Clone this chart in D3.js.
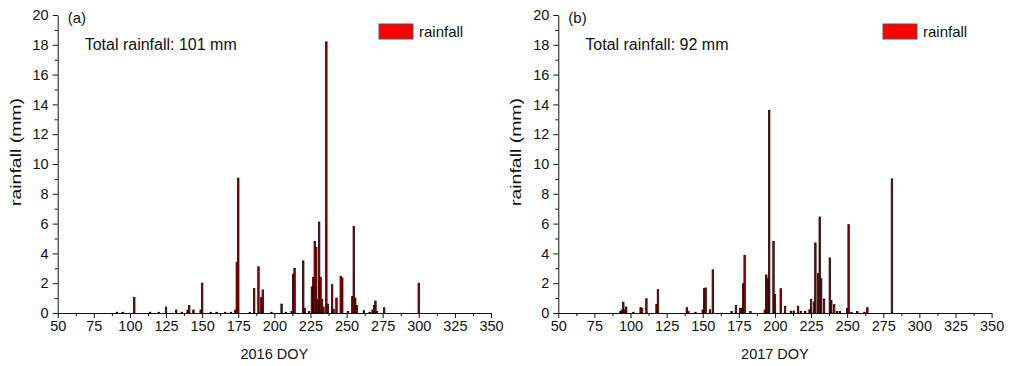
<!DOCTYPE html>
<html><head><meta charset="utf-8">
<script src="https://cdn.jsdelivr.net/npm/d3@7"></script>
<style>
html,body{margin:0;padding:0;background:#fff;}
svg text{font-family:"Liberation Sans",Arial,sans-serif;fill:#111;}
</style></head>
<body><svg id="c" width="1013" height="366"></svg>
<script>
// ---- data ----
const doy2016 = [91,95,103,114,120,125,132,136,140,141,144,149,150,156,160,166,170,173,174,175,
  183,186,189,191,192,198,205,208,212,213,214,220,221,224,226,227,228,229,230,231,232,233,234,236,237,
  240,241,243,246,247,251,254,255,256,257,262,266,268,269,270,271,276,300];
const rain2016 = [0.05,0.05,1.05,0.05,0.05,0.4,0.2,0.05,0.2,0.5,0.2,0.2,2.0,0.05,0.05,0.05,0.05,0.2,3.4,9.05,
  0.05,1.65,3.1,1.05,1.55,0.05,0.6,0.05,0.1,2.6,3.0,3.5,0.3,0.1,1.75,2.4,4.8,4.4,0.9,6.1,2.4,0.9,0.4,18.2,0.6,
  1.9,0.25,1.0,2.45,2.35,0.1,1.1,5.8,1.0,0.5,0.15,0.05,0.2,0.5,0.8,0.1,0.35,2.0];
const doy2017 = [93,94,95,96,97,102,107,108,111,118,119,139,140,145,150,151,152,155,157,170,173,176,177,178,179,183,
  193,194,195,196,199,200,204,207,211,213,216,218,221,224,225,227,228,230,231,232,234,238,239,241,243,245,
  250,251,253,257,262,264,281];
const rain2017 = [0.1,0.2,0.72,0.2,0.4,0.05,0.36,0.3,0.96,0.58,1.57,0.36,0.1,0.05,0.2,1.63,1.68,0.22,2.9,0.1,0.5,0.3,0.3,1.97,3.87,0.1,
  0.2,2.55,2.3,13.6,4.8,1.25,1.63,0.45,0.13,0.13,0.45,0.1,0.1,0.22,0.9,0.74,4.7,2.64,6.44,2.3,0.94,3.7,0.85,0.56,0.1,0.1,
  0.3,5.93,0.05,0.1,0.05,0.36,9.0];
const xTicks = [50,75,100,125,150,175,200,225,250,275,300,325,350];
const yTicks = [0,2,4,6,8,10,12,14,16,18,20];

const panels = [
  {doy: doy2016, rain: rain2016, x0: 57.7, x1: 491, tag: "(a)", total: "Total rainfall: 101 mm", xlabel: "2016 DOY", legX: 379},
  {doy: doy2017, rain: rain2017, x0: 558.3, x1: 991.6, tag: "(b)", total: "Total rainfall: 92 mm", xlabel: "2017 DOY", legX: 883}
];

const svg = d3.select("#c");
const yTop = 15, yBot = 313;

panels.forEach(p => {
  const g = svg.append("g");
  const x = d3.scaleLinear().domain([50,350]).range([p.x0, p.x1]);
  const y = d3.scaleLinear().domain([0,20]).range([yBot, yTop]);
  const bw = x(51) - x(50);

  // bars
  g.append("g").selectAll("rect").data(p.doy.map((d,i)=>({d, v:p.rain[i]})))
    .join("rect")
    .attr("x", d => x(d.d) - bw/2)
    .attr("y", d => y(d.v))
    .attr("width", bw)
    .attr("height", d => yBot - y(d.v))
    .attr("fill", "#b80000")
    .attr("stroke", "#1e0000")
    .attr("stroke-width", 0.8);

  // x axis
  g.append("g").attr("transform", `translate(0,${yBot})`)
    .call(d3.axisBottom(x).tickValues(xTicks).tickSize(5).tickSizeOuter(0).tickPadding(3));
  g.append("g").attr("transform", `translate(0,${yBot})`)
    .call(d3.axisBottom(x).tickValues(d3.range(62.5,350,25)).tickSize(3).tickSizeOuter(0).tickFormat(""))
    .select(".domain").remove();
  // y axis
  g.append("g").attr("transform", `translate(${p.x0},0)`)
    .call(d3.axisLeft(y).tickValues(yTicks).tickSize(5).tickSizeOuter(0).tickPadding(4));
  g.append("g").attr("transform", `translate(${p.x0},0)`)
    .call(d3.axisLeft(y).tickValues(d3.range(1,20,2)).tickSize(3).tickSizeOuter(0).tickFormat(""))
    .select(".domain").remove();
  g.selectAll(".tick text").style("font-size","14.5px").style("font-family","'Liberation Sans',Arial,sans-serif").attr("fill","#111");
  g.selectAll(".domain, .tick line").attr("stroke","#111").attr("stroke-width",1);

  // axis labels
  g.append("text").attr("x", (p.x0+p.x1)/2 ).attr("y", 359).attr("text-anchor","middle")
    .style("font-size","14.5px").text(p.xlabel);
  g.append("text").attr("transform", `translate(${p.x0-37},152) rotate(-90)`)
    .attr("text-anchor","middle").style("font-size","14px")
    .attr("textLength", 108).attr("lengthAdjust","spacingAndGlyphs").text("rainfall (mm)");

  // annotations
  g.append("text").attr("x", p.x0+10).attr("y", 23).style("font-size","15px").text(p.tag);
  g.append("text").attr("x", p.x0+27).attr("y", 50).style("font-size","16px").text(p.total);

  // legend
  g.append("rect").attr("x", p.legX).attr("y", 24).attr("width", 34).attr("height", 15)
    .attr("fill","#ff0000").attr("stroke","#555").attr("stroke-width",1);
  g.append("text").attr("x", p.legX+40).attr("y", 37).style("font-size","15px").text("rainfall");
});
</script></body></html>
